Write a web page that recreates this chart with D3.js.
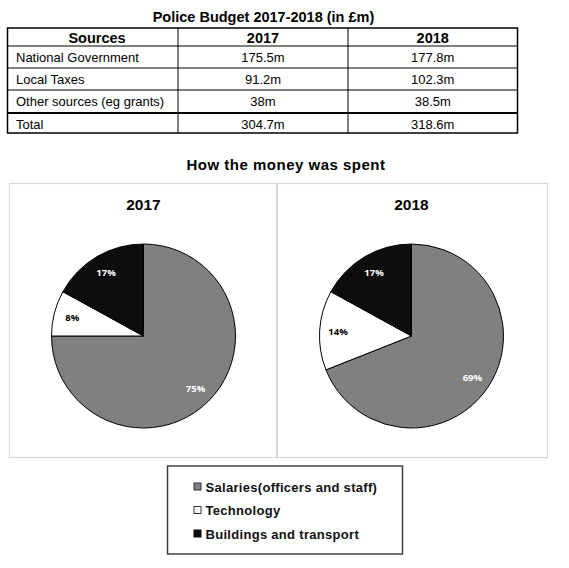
<!DOCTYPE html>
<html><head><meta charset="utf-8">
<script src="https://cdn.jsdelivr.net/npm/d3@7"></script>
<style>
html,body{margin:0;padding:0;background:#fff;}
svg{display:block;font-family:"Liberation Sans",Arial,sans-serif;}
</style></head>
<body>
<svg id="c" width="569" height="568"></svg>
<script>
const tableTitle = "Police Budget 2017-2018 (in £m)";
const tableHeaders = ["Sources", "2017", "2018"];
const sources = ["National Government", "Local Taxes", "Other sources (eg grants)", "Total"];
const values2017 = ["175.5m", "91.2m", "38m", "304.7m"];
const values2018 = ["177.8m", "102.3m", "38.5m", "318.6m"];

const pieTitle = "How the money was spent";
const categories = ["Salaries(officers and staff)", "Technology", "Buildings and transport"];
const years = ["2017", "2018"];
const spend2017 = [75, 8, 17];
const spend2018 = [69, 14, 17];
const sliceColors = ["#808080", "#ffffff", "#0d0d0d"];
const labelColors = ["#ffffff", "#000000", "#ffffff"];

const svg = d3.select("#c");

// ---------- Table ----------
const colEdges = [7.5, 178, 348, 517.5];
const rowEdges = [28, 46, 68, 90, 112, 133];

svg.append("text").attr("x", (colEdges[0] + colEdges[3]) / 2 + 1).attr("y", 17).attr("text-anchor", "middle")
  .attr("dominant-baseline", "central").attr("font-weight", "bold").attr("font-size", 14.5)
  .text(tableTitle);

const tx = d3.scaleOrdinal().domain([0,1,2]).range([16, (colEdges[1]+colEdges[2])/2, (colEdges[2]+colEdges[3])/2]);
const anchors = ["start", "middle", "middle"];

const tg = svg.append("g");
tg.append("rect").attr("x", colEdges[0]).attr("y", rowEdges[0])
  .attr("width", colEdges[3]-colEdges[0]).attr("height", rowEdges[5]-rowEdges[0])
  .attr("fill", "none").attr("stroke", "#000").attr("stroke-width", 1.5);
[1,2,3].forEach(i => tg.append("line").attr("x1", colEdges[0]).attr("x2", colEdges[3])
  .attr("y1", rowEdges[i]).attr("y2", rowEdges[i]).attr("stroke", "#000").attr("stroke-width", 1));
tg.append("line").attr("x1", colEdges[0]).attr("x2", colEdges[3])
  .attr("y1", rowEdges[4]+1).attr("y2", rowEdges[4]+1).attr("stroke", "#000").attr("stroke-width", 2);
[1,2].forEach(i => tg.append("line").attr("x1", colEdges[i]).attr("x2", colEdges[i])
  .attr("y1", rowEdges[0]).attr("y2", rowEdges[5]).attr("stroke", "#000").attr("stroke-width", 1));

tableHeaders.forEach((h, j) => {
  tg.append("text").attr("x", j === 0 ? 97 : tx(j)).attr("y", (rowEdges[0]+rowEdges[1])/2 + 1)
    .attr("text-anchor", "middle").attr("dominant-baseline", "central")
    .attr("font-weight", "bold").attr("font-size", 14.5).text(h);
});
const rows = sources.map((s, i) => [s, values2017[i], values2018[i]]);
rows.forEach((r, i) => {
  const cy = (rowEdges[i+1] + rowEdges[i+2]) / 2 + (i === 3 ? 1.5 : 0.5);
  r.forEach((v, j) => {
    tg.append("text").attr("x", tx(j)).attr("y", cy).attr("text-anchor", anchors[j])
      .attr("dominant-baseline", "central").attr("font-size", 13).text(v);
  });
});

// ---------- Pies ----------
svg.append("text").attr("x", 286).attr("y", 164).attr("text-anchor", "middle")
  .attr("dominant-baseline", "central").attr("font-weight", "bold").attr("font-size", 15)
  .attr("letter-spacing", 0.5).text(pieTitle);

const panels = [
  {year: years[0], data: spend2017, x0: 9, x1: 276},
  {year: years[1], data: spend2018, x0: 277, x1: 547}
];
const panelTop = 183, panelBottom = 457;
const radius = 92;
const pie = d3.pie().sort(null).value(d => d);
const arc = d3.arc().innerRadius(0).outerRadius(radius);
const labelArc = d3.arc().innerRadius(radius*0.8).outerRadius(radius*0.8);

panels.forEach(p => {
  svg.append("rect").attr("x", p.x0 + 0.5).attr("y", panelTop + 0.5)
    .attr("width", p.x1 - p.x0).attr("height", panelBottom - panelTop)
    .attr("fill", "#fff").attr("stroke", "#d9d9d9").attr("stroke-width", 1.2);
  const cx = p.x0 + 134.5;
  const cy = 336;
  svg.append("text").attr("x", cx).attr("y", 204).attr("text-anchor", "middle")
    .attr("dominant-baseline", "central").attr("font-weight", "bold").attr("font-size", 15.5)
    .text(p.year);
  const g = svg.append("g").attr("transform", `translate(${cx},${cy})`);
  const arcs = pie(p.data);
  g.selectAll("path").data(arcs).join("path")
    .attr("d", arc).attr("fill", (d, i) => sliceColors[i])
    .attr("stroke", "#000").attr("stroke-width", 1);
  g.selectAll("text").data(arcs).join("text")
    .attr("transform", d => `translate(${labelArc.centroid(d)})`)
    .attr("text-anchor", "middle").attr("dominant-baseline", "central")
    .attr("font-family", "'Open Sans', sans-serif").attr("font-weight", "bold").attr("font-size", 9.5)
    .attr("fill", (d, i) => labelColors[i])
    .text(d => d.data + "%");
});

// ---------- Legend ----------
const lg = svg.append("g");
lg.append("rect").attr("x", 167.5).attr("y", 466).attr("width", 235).attr("height", 88)
  .attr("fill", "#fff").attr("stroke", "#404040").attr("stroke-width", 1.5);
const ly = d3.scalePoint().domain(categories).range([486.5, 533.5]);
categories.forEach((c, i) => {
  lg.append("rect").attr("x", 194).attr("y", ly(c) - 3.5).attr("width", 7).attr("height", 7)
    .attr("fill", sliceColors[i]).attr("stroke", i === 2 ? "#0d0d0d" : "#333").attr("stroke-width", 1);
  lg.append("text").attr("x", 205.5).attr("y", ly(c) + 0.5).attr("dominant-baseline", "central")
    .attr("font-weight", "bold").attr("font-size", 13).attr("letter-spacing", 0.3).attr("fill", "#111")
    .text(c);
});
</script>
</body></html>
